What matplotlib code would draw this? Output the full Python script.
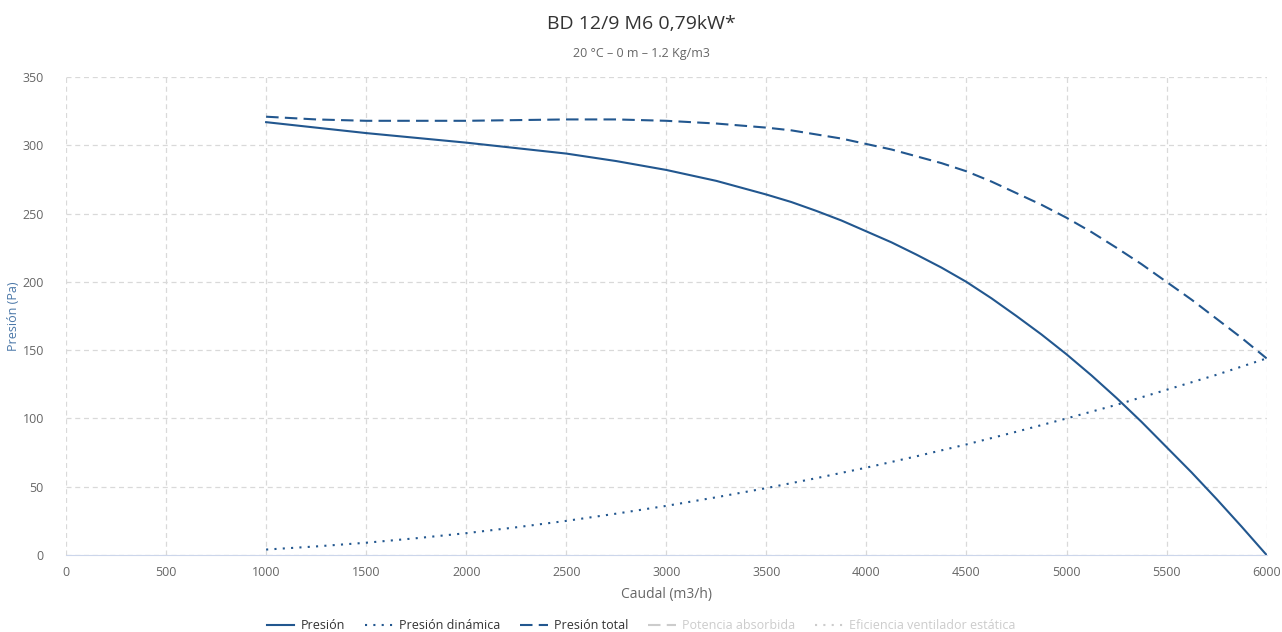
import matplotlib
matplotlib.use("Agg")
import matplotlib.pyplot as plt
from matplotlib.lines import Line2D

# Datos
caudal = [1000, 1250, 1500, 1750, 2000, 2250, 2500, 2750, 3000, 3250, 3500,
          3625, 3750, 3875, 4000, 4125, 4250, 4375, 4500, 4625, 4750, 4875,
          5000, 5125, 5250, 5375, 5500, 5625, 5750, 5875, 6000]
presion = [317, 313, 309, 305.5, 302, 298, 294, 288.5, 282, 274, 264,
           258.5, 252, 245, 237, 229, 220, 210.5, 200, 188, 175, 161.5,
           147, 131.5, 115, 97.5, 79, 60.5, 41, 20.8, 0]
caudal_din = [1000, 1250, 1500, 1750, 2000, 2250, 2500, 2750, 3000, 3250, 3500,
              3750, 4000, 4250, 4500, 4750, 5000, 5250, 5500, 5750, 6000]
presion_dinamica = [4, 6.3, 9, 12.3, 16, 20.3, 25, 30.3, 36, 42.3, 49,
                    56.3, 64, 72.3, 81, 90.3, 100, 110, 121, 132, 144]
presion_total = [321, 319, 318, 318, 318, 318.5, 319, 319, 318, 316, 313,
                 311, 308, 305, 301, 297, 292, 287, 281, 273.5, 265, 256.5,
                 247, 236.5, 225, 213, 200, 187, 173, 159, 144]

x_ticks = [0, 500, 1000, 1500, 2000, 2500, 3000, 3500, 4000, 4500, 5000, 5500, 6000]
y_ticks = [0, 50, 100, 150, 200, 250, 300, 350]

titulo = "BD 12/9 M6 0,79kW*"
subtitulo = "20 °C – 0 m – 1.2 Kg/m3"

plt.rcParams["font.family"] = ["Open Sans", "DejaVu Sans"]

azul = "#22578f"
gris_texto = "#666666"
gris_grid = "#d9d9d9"

fig = plt.figure(figsize=(12.82, 6.32), dpi=100)
ax = fig.add_axes([0.0515, 0.1218, 0.9365, 0.7562])

ax.plot(caudal, presion, color=azul, lw=1.5)
ax.plot(caudal_din, presion_dinamica, color=azul, lw=1.5, linestyle=(0, (1, 3)))
ax.plot(caudal, presion_total, color=azul, lw=1.5, linestyle=(0, (6, 3)))

ax.set_xlim(0, 6000)
ax.set_ylim(0, 350)
ax.set_xticks(x_ticks)
ax.set_yticks(y_ticks)
ax.grid(True, color=gris_grid, linestyle=(0, (4, 3)), lw=0.9)
ax.set_axisbelow(True)

for s in ["top", "right", "left"]:
    ax.spines[s].set_visible(False)
ax.spines["bottom"].set_color("#ccd6eb")
ax.tick_params(length=0, labelsize=9, colors=gris_texto, pad=8)
ax.tick_params(axis="y", pad=16)

ax.set_xlabel("Caudal (m3/h)", fontsize=10, color=gris_texto, labelpad=6)
ax.set_ylabel("Presión (Pa)", fontsize=9, color="#4a77a8", labelpad=2)

fig.text(0.5, 0.962, titulo, ha="center", va="center", fontsize=14, color="#333333")
fig.text(0.5, 0.915, subtitulo, ha="center", va="center", fontsize=9, color=gris_texto)

handles = [
    Line2D([], [], color=azul, lw=1.5),
    Line2D([], [], color=azul, lw=1.5, linestyle=(0, (1, 3))),
    Line2D([], [], color=azul, lw=1.5, linestyle=(0, (6, 3))),
    Line2D([], [], color="#cccccc", lw=1.5, linestyle=(0, (6, 3))),
    Line2D([], [], color="#cccccc", lw=1.5, linestyle=(0, (1, 3))),
]
labels = ["Presión", "Presión dinámica", "Presión total",
          "Potencia absorbida", "Eficiencia ventilador estática"]
leg = fig.legend(handles, labels, loc="center", bbox_to_anchor=(0.5, 0.01),
                 ncol=5, frameon=False, fontsize=9, handlelength=2.2,
                 columnspacing=1.6, handletextpad=0.5)
for i, t in enumerate(leg.get_texts()):
    t.set_color("#333333" if i < 3 else "#cccccc")

fig.savefig("out.png", dpi=100)
